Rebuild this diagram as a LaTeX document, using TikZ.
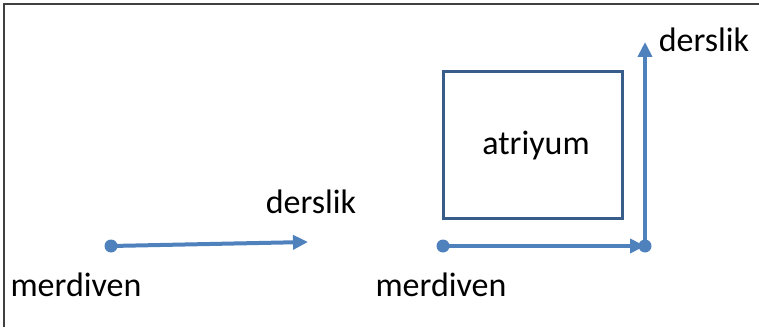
\documentclass[tikz,border=0pt]{standalone}
\usepackage{fontspec}
\setmainfont{Carlito}
\usetikzlibrary{arrows.meta}
\definecolor{lineblue}{HTML}{4F81BD}
\definecolor{boxblue}{HTML}{385D8A}
\definecolor{frame}{HTML}{404040}
\begin{document}
\begin{tikzpicture}[x=1pt,y=1pt,
  conn/.style={draw=lineblue,line width=4pt},
  tipped/.style={conn,-{Triangle[length=15pt,width=14pt]}},
  dot/.style={circle,fill=lineblue,inner sep=0pt,minimum size=13pt},
  lbl/.style={font=\fontsize{34}{40}\selectfont,text=black,anchor=base,inner sep=0pt},
  roombox/.style={draw=boxblue,line width=3pt,minimum width=179pt,minimum height=146pt,inner sep=0pt}]
\useasboundingbox (0,0) rectangle (759,327);
\fill[white] (0,0) rectangle (759,327);
% frame (top and left only)
\draw[frame,line width=1.5pt] (4,0) -- (4,323) -- (759,323);
% left group
\node[dot] (mA) at (111,81) {};
\coordinate (dA) at (308,85);
\draw[tipped] (mA.center) -- (dA);
\node[lbl] (tA) at (311,114) {derslik};
\node[lbl] (tmA) at (76,31) {merdiven};
% right group
\node[roombox] (atr) at (532.5,182) {};
\node[lbl] (tatr) at (536,172) {atriyum};
\node[dot] (mB) at (443,81) {};
\node[dot] (cC) at (645,81) {};
\coordinate (dC) at (645,285);
\draw[tipped] (mB.center) -- (cC.center);
\draw[tipped] (cC.center) -- (dC);
\node[lbl] (tC) at (704,275) {derslik};
\node[lbl] (tmB) at (441,31) {merdiven};
\end{tikzpicture}
\end{document}
